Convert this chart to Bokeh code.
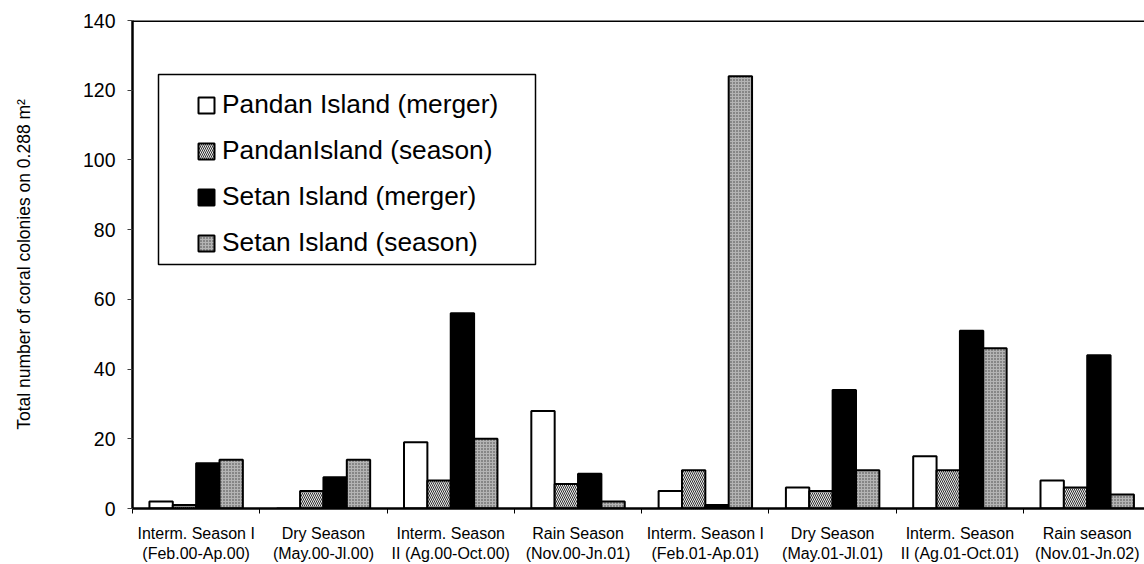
from bokeh.plotting import figure
from bokeh.models import (Range1d, FixedTicker, Legend, LegendItem, BoxAnnotation,
                          Span, ColumnDataSource)
from bokeh.embed import file_html
from bokeh.resources import INLINE

# ---------------- data ----------------
seasons = [
    "Interm. Season I\n(Feb.00-Ap.00)",
    "Dry Season\n(May.00-Jl.00)",
    "Interm. Season\nII (Ag.00-Oct.00)",
    "Rain Season\n(Nov.00-Jn.01)",
    "Interm. Season I\n(Feb.01-Ap.01)",
    "Dry Season\n(May.01-Jl.01)",
    "Interm. Season\nII (Ag.01-Oct.01)",
    "Rain season\n(Nov.01-Jn.02)",
]
pandan_merger = [2, 0, 19, 28, 5, 6, 15, 8]
pandan_season = [1, 5, 8, 7, 11, 5, 11, 6]
setan_merger = [13, 9, 56, 10, 1, 34, 51, 44]
setan_season = [14, 14, 20, 2, 124, 11, 46, 4]
series_names = ["Pandan Island (merger)", "PandanIsland (season)",
                "Setan Island (merger)", "Setan Island (season)"]
y_ticks = [0, 20, 40, 60, 80, 100, 120, 140]
y_title = "Total number of coral colonies on 0.288 m\u00b2"

FONT = "Liberation Sans"

p = figure(width=1144, height=564, output_backend="svg", toolbar_location=None,
           x_range=Range1d(0.5, 8.45), y_range=Range1d(0, 140),
           min_border_left=132, min_border_right=0, min_border_top=20,
           min_border_bottom=56)
p.outline_line_color = None
p.xgrid.visible = False
p.ygrid.visible = False
p.background_fill_color = "white"

series = [pandan_merger, pandan_season, setan_merger, setan_season]
styles = [
    dict(fill_color="white"),
    dict(fill_color="#ececec", hatch_pattern="\\", hatch_color="#303030",
         hatch_scale=4, hatch_weight=1),
    dict(fill_color="black"),
    dict(fill_color="#b4b4b4", hatch_pattern=".", hatch_color="#404040",
         hatch_scale=3, hatch_weight=1),
]
bw = 0.1835
renderers = []
for k, (vals, st) in enumerate(zip(series, styles)):
    off = (k - 1.5) * bw
    src = ColumnDataSource(dict(x=[i + 1 + off for i in range(len(vals))], top=vals))
    r = p.vbar(x="x", top="top", bottom=0, width=bw, source=src,
               line_color="black", line_width=2, **st)
    renderers.append(r)

# top border line
p.add_layout(Span(location=140, dimension="width", line_color="black", line_width=3))

# x axis
xa = p.xaxis[0]
xa.ticker = FixedTicker(ticks=[i + 1 for i in range(len(seasons))],
                        minor_ticks=[i + 0.5 for i in range(len(seasons) + 1)])
xa.major_label_overrides = {i + 1: s for i, s in enumerate(seasons)}
xa.major_tick_out = 0
xa.major_tick_in = 0
xa.minor_tick_out = 5
xa.minor_tick_in = 0
xa.minor_tick_line_color = "black"
xa.minor_tick_line_width = 1
xa.axis_line_width = 2.5
xa.axis_line_color = "black"
xa.major_label_text_font = FONT
xa.major_label_text_font_size = "16px"
xa.major_label_text_color = "black"
xa.major_label_standoff = 11

# y axis
ya = p.yaxis[0]
ya.ticker = FixedTicker(ticks=y_ticks)
ya.major_tick_out = 5
ya.major_tick_in = 0
ya.minor_tick_out = 0
ya.minor_tick_in = 0
ya.major_tick_line_color = "#404040"
ya.major_tick_line_width = 1
ya.axis_line_width = 2.5
ya.axis_line_color = "black"
ya.major_label_text_font = FONT
ya.major_label_text_font_size = "19.5px"
ya.major_label_text_color = "black"
ya.major_label_standoff = 12
ya.axis_label = y_title
ya.axis_label_text_font = FONT
ya.axis_label_text_font_size = "17.5px"
ya.axis_label_text_font_style = "normal"
ya.axis_label_text_color = "black"
ya.axis_label_standoff = 46

# legend box (border)
box = BoxAnnotation(left=158, right=535, top=74, bottom=264,
                    left_units="canvas", right_units="canvas",
                    top_units="canvas", bottom_units="canvas",
                    fill_color="white", fill_alpha=1.0,
                    line_color="black", line_width=1.5, line_alpha=1.0)
p.add_layout(box)

legend = Legend(items=[LegendItem(label=n, renderers=[r]) for n, r in zip(series_names, renderers)],
                location=(64, 250), padding=0, spacing=15, margin=0,
                glyph_width=20, glyph_height=20, label_height=20, label_standoff=6,
                label_text_font=FONT, label_text_font_size="26.3px",
                label_text_color="black",
                border_line_color=None, background_fill_alpha=0)
p.add_layout(legend)

open("out.html", "w").write(file_html(p, INLINE))
